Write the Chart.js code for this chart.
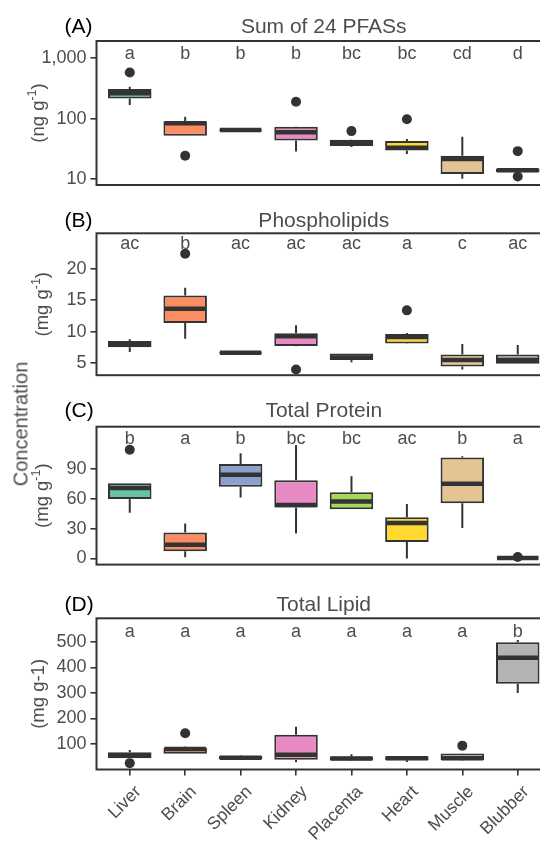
<!DOCTYPE html>
<html>
<head>
<meta charset="utf-8">
<script src="https://cdn.jsdelivr.net/npm/chart.js@4.4.1/dist/chart.umd.min.js"></script>
<style>
  html, body { margin: 0; padding: 0; background: #fff; width: 540px; height: 842px; overflow: hidden; }
  canvas { position: absolute; left: 0; }
  #conc {
    position: absolute; left: 20.5px; top: 424px;
    transform: translate(-50%, -50%) rotate(-90deg);
    font: 20px "Liberation Sans", Arial, sans-serif; color: #4d4d4d; white-space: nowrap;
  }
</style>
</head>
<body>
<canvas id="pA" width="560" height="200" style="top:0px"></canvas>
<canvas id="pB" width="560" height="195" style="top:195px"></canvas>
<canvas id="pC" width="560" height="200" style="top:390px"></canvas>
<canvas id="pD" width="560" height="252" style="top:590px"></canvas>
<div id="conc">Concentration</div>
<script>
const organs = ['Liver', 'Brain', 'Spleen', 'Kidney', 'Placenta', 'Heart', 'Muscle', 'Blubber'];
const organColors = ['#66C2A5', '#FC8D62', '#8DA0CB', '#E78AC3', '#A6D854', '#FFD92F', '#E5C494', '#B3B3B3'];

// (A) Sum of 24 PFASs (ng/g, log scale)
const pfasLow  = [167, 52, 62, 28.4, 34, 25.9, 10.1, 12.9];
const pfasQ1   = [214, 52, 63, 43.4, 35, 29.5, 12.1, 12.9];
const pfasMed  = [262, 84, 64.5, 59.6, 39, 33, 21.4, 13.9];
const pfasQ3   = [308, 90, 66, 73, 44.6, 42.4, 24.2, 14.9];
const pfasHigh = [337, 107, 67, 74, 45, 46, 50, 14.9];
const pfasOut  = [[580], [24.3], [], [190], [62], [97.5], [], [28.9, 11.0]];
const pfasLetters = ['a', 'b', 'b', 'b', 'bc', 'bc', 'cd', 'd'];
const pfasTicks = [10, 100, 1000];
const pfasTickLabels = ['10', '100', '1,000'];

// (B) Phospholipids (mg/g)
const phosLow  = [6.8, 8.9, 6.5, 7.7, 5.15, 8.1, 4.0, 4.9];
const phosQ1   = [7.55, 11.4, 6.55, 7.75, 5.5, 8.15, 4.5, 4.9];
const phosMed  = [8.05, 13.65, 6.65, 9.3, 5.9, 9.15, 5.5, 5.5];
const phosQ3   = [8.55, 15.75, 6.75, 9.75, 6.55, 9.65, 6.4, 6.4];
const phosHigh = [8.8, 17.0, 6.8, 11.05, 6.55, 9.8, 8.05, 7.9];
const phosOut  = [[], [22.4], [], [4.0], [], [13.4], [], []];
const phosLetters = ['ac', 'b', 'ac', 'ac', 'ac', 'a', 'c', 'ac'];
const phosTicks = [5, 10, 15, 20];

// (C) Total protein (mg/g)
const protLow  = [45.9, 1.3, 61.2, 25, 49.5, 0, 30.6, 0.2];
const protQ1   = [59.6, 7.3, 71.9, 51.1, 49.5, 16.5, 55.4, 0.3];
const protMed  = [70.7, 13.8, 83.9, 53.6, 57.2, 35.5, 75, 0.5];
const protQ3   = [75.6, 26, 94.9, 78.6, 66.4, 41.3, 101.3, 0.8];
const protHigh = [75.6, 35.2, 105.5, 113.8, 82.6, 54.8, 102.5, 1.0];
const protOut  = [[109], [], [], [], [], [], [], [1.5]];
const protLetters = ['b', 'a', 'b', 'bc', 'bc', 'ac', 'b', 'a'];
const protTicks = [0, 30, 60, 90];

// (D) Total lipid (mg/g)
const lipLow  = [44, 62, 38, 28.7, 33, 29, 34, 300];
const lipQ1   = [44.2, 62, 40, 37.6, 35, 36, 36, 336];
const lipMed  = [56, 80, 46, 58, 42.7, 44, 44, 438];
const lipQ3   = [67.6, 85, 53, 136, 50.5, 52, 63, 499];
const lipHigh = [76.6, 89.5, 55, 167.6, 60, 53, 64, 508];
const lipOut  = [[24.8], [141.7], [], [], [], [], [93.4], []];
const lipLetters = ['a', 'a', 'a', 'a', 'a', 'a', 'a', 'b'];
const lipTicks = [100, 200, 300, 400, 500];

const FONT = '"Liberation Sans", Arial, sans-serif';
const ink = '#333333';
const grey = '#4D4D4D';
Chart.defaults.font.family = FONT;

const panels = [
  { id: 'pA', top: 0, height: 200, frameTop: 41, frameBottom: 192.5,
    yType: 'logarithmic', yMin: 7.96, yMax: 1919, ticks: pfasTicks, tickLabels: pfasTickLabels,
    low: pfasLow, q1: pfasQ1, med: pfasMed, q3: pfasQ3, high: pfasHigh, out: pfasOut, letters: pfasLetters,
    tag: '(A)', title: 'Sum of 24 PFASs', titleBase: 32.7, letterBase: 58.6,
    yTitle: ['(ng g', '-1', ')'], yTitleX: 38.6, showX: false },
  { id: 'pB', top: 195, height: 195, frameTop: 233.3, frameBottom: 383.7,
    yType: 'linear', yMin: 3.1, yMax: 25.64, ticks: phosTicks, tickLabels: phosTicks.map(String),
    low: phosLow, q1: phosQ1, med: phosMed, q3: phosQ3, high: phosHigh, out: phosOut, letters: phosLetters,
    tag: '(B)', title: 'Phospholipids', titleBase: 226.7, letterBase: 248.8,
    yTitle: ['(mg g', '-1', ')'], yTitleX: 42.5, showX: false },
  { id: 'pC', top: 390, height: 200, frameTop: 426.7, frameBottom: 577.3,
    yType: 'linear', yMin: -6.1, yMax: 132.2, ticks: protTicks, tickLabels: protTicks.map(String),
    low: protLow, q1: protQ1, med: protMed, q3: protQ3, high: protHigh, out: protOut, letters: protLetters,
    tag: '(C)', title: 'Total Protein', titleBase: 417.3, letterBase: 443.6,
    yTitle: ['(mg g', '-1', ')'], yTitleX: 42.5, showX: false },
  { id: 'pD', top: 590, height: 252, frameTop: 618.3, frameBottom: 769.5,
    yType: 'linear', yMin: -0.2, yMax: 593, ticks: lipTicks, tickLabels: lipTicks.map(String),
    low: lipLow, q1: lipQ1, med: lipMed, q3: lipQ3, high: lipHigh, out: lipOut, letters: lipLetters,
    tag: '(D)', title: 'Total Lipid', titleBase: 611, letterBase: 637.3,
    yTitle: ['(mg g-1)', '', ''], yTitleX: 38.6, showX: true }
];

// whiskers, medians and panel text
function boxplotPlugin(p) {
  return {
    id: 'boxplot' + p.id,
    beforeDatasetsDraw(chart) {
      const ctx = chart.ctx, xs = chart.scales.x, ys = chart.scales.y;
      ctx.save();
      ctx.strokeStyle = ink;
      ctx.lineWidth = 2;
      p.low.forEach((lo, i) => {
        const x = xs.getPixelForValue(i);
        ctx.beginPath();
        ctx.moveTo(x, ys.getPixelForValue(lo));
        ctx.lineTo(x, ys.getPixelForValue(p.q1[i]));
        ctx.moveTo(x, ys.getPixelForValue(p.q3[i]));
        ctx.lineTo(x, ys.getPixelForValue(p.high[i]));
        ctx.stroke();
      });
      ctx.restore();
    },
    afterDatasetDraw(chart, args) {
      if (args.meta.type !== 'bar') return;
      const ctx = chart.ctx, ys = chart.scales.y;
      ctx.save();
      ctx.strokeStyle = ink;
      ctx.lineWidth = 4.5;
      args.meta.data.forEach((bar, i) => {
        const y = ys.getPixelForValue(p.med[i]);
        ctx.beginPath();
        ctx.moveTo(bar.x - bar.width / 2 + 1, y);
        ctx.lineTo(bar.x + bar.width / 2 - 1, y);
        ctx.stroke();
      });
      ctx.restore();
    },
    afterDraw(chart) {
      const ctx = chart.ctx, ca = chart.chartArea, xs = chart.scales.x;
      ctx.save();
      // panel border
      ctx.strokeStyle = ink;
      ctx.lineWidth = 2;
      ctx.strokeRect(ca.left, ca.top, ca.right - ca.left, ca.bottom - ca.top);

      // significance letters
      ctx.fillStyle = grey;
      ctx.font = '18px ' + FONT;
      ctx.textAlign = 'center';
      ctx.textBaseline = 'alphabetic';
      p.letters.forEach((l, i) => ctx.fillText(l, xs.getPixelForValue(i), p.letterBase - p.top));

      // title and tag
      ctx.font = '21px ' + FONT;
      ctx.fillText(p.title, (ca.left + ca.right) / 2, p.titleBase - p.top);
      ctx.fillStyle = '#000';
      ctx.textAlign = 'left';
      ctx.fillText(p.tag, 64.5, p.titleBase - p.top);

      // y axis title with superscript
      ctx.fillStyle = grey;
      ctx.translate(p.yTitleX, (ca.top + ca.bottom) / 2);
      ctx.rotate(-Math.PI / 2);
      ctx.textBaseline = 'middle';
      const [a, sup, b] = p.yTitle;
      ctx.font = '18.5px ' + FONT;
      const wa = ctx.measureText(a).width, wb = ctx.measureText(b).width;
      ctx.font = '12.5px ' + FONT;
      const ws = sup ? ctx.measureText(sup).width : 0;
      let x0 = -(wa + ws + wb) / 2;
      ctx.font = '18.5px ' + FONT;
      ctx.fillText(a, x0, 0);
      ctx.font = '12.5px ' + FONT;
      if (sup) ctx.fillText(sup, x0 + wa, -6);
      ctx.font = '18.5px ' + FONT;
      ctx.fillText(b, x0 + wa + ws, 0);
      ctx.restore();

      // rotated organ labels
      if (p.showX) {
        ctx.save();
        ctx.fillStyle = grey;
        ctx.font = '17.5px ' + FONT;
        ctx.textAlign = 'right';
        ctx.textBaseline = 'alphabetic';
        organs.forEach((name, i) => {
          ctx.save();
          ctx.translate(xs.getPixelForValue(i) + 12, p.frameBottom - p.top + 23);
          ctx.rotate(-Math.PI / 4);
          ctx.fillText(name, 0, 0);
          ctx.restore();
        });
        ctx.restore();
      }
    }
  };
}

panels.forEach(p => {
  const outliers = [];
  p.out.forEach((vals, i) => vals.forEach(v => outliers.push({ x: i, y: v })));
  const boxes = organs.map((_, i) => ({ x: i, y: [p.q1[i], p.q3[i]] }));

  new Chart(document.getElementById(p.id), {
    type: 'bar',
    data: {
      datasets: [
        { type: 'scatter', data: outliers, pointRadius: 5, pointHoverRadius: 5,
          backgroundColor: ink, borderWidth: 0 },
        { type: 'bar', data: boxes, backgroundColor: organColors, borderColor: ink,
          borderWidth: 2, borderSkipped: false, barPercentage: 0.785, categoryPercentage: 1 }
      ]
    },
    options: {
      responsive: false,
      animation: false,
      layout: { padding: { top: p.frameTop - p.top,
        bottom: p.showX ? 0 : p.top + p.height - p.frameBottom, left: 0, right: 9 } },
      plugins: { legend: { display: false }, tooltip: { enabled: false } },
      scales: {
        x: {
          type: 'linear', min: -0.6, max: 7.6, offset: false, display: p.showX,
          afterBuildTicks: s => { s.ticks = organs.map((_, i) => ({ value: i })); },
          afterFit: s => { s.height = p.top + p.height - p.frameBottom; },
          ticks: { autoSkip: false, callback: () => '' },
          grid: { drawOnChartArea: false, drawTicks: true, tickLength: 6, color: ink, lineWidth: 1.6, offset: false },
          border: { display: false }
        },
        y: {
          type: p.yType, min: p.yMin, max: p.yMax,
          afterBuildTicks: s => { s.ticks = p.ticks.map(v => ({ value: v })); },
          afterFit: s => { s.width = 96.5; },
          ticks: { autoSkip: false, color: grey, font: { size: 18 }, padding: 4,
            callback: (v, i) => p.tickLabels[i] },
          grid: { drawOnChartArea: false, drawTicks: true, tickLength: 6, color: ink, lineWidth: 1.6 },
          border: { display: false }
        }
      }
    },
    plugins: [boxplotPlugin(p)]
  });
});
</script>
</body>
</html>
